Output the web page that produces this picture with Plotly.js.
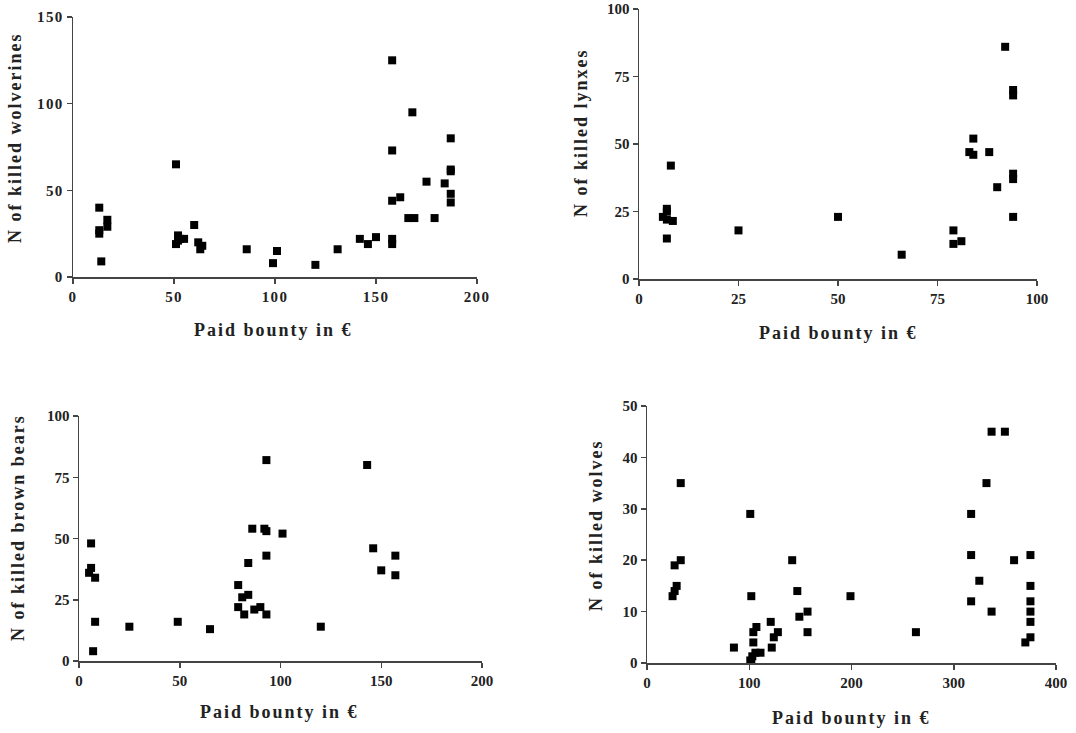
<!DOCTYPE html>
<html>
<head>
<meta charset="utf-8">
<script src="https://cdn.plot.ly/plotly-3.0.1.min.js"></script>
<style>
html,body{margin:0;padding:0;background:#fff;}
#chart{width:1076px;height:733px;}
#chart .xtick text, #chart .ytick text{letter-spacing:1.3px;}
#chart .annotation-text{letter-spacing:2px;}
</style>
</head>
<body>
<div id="chart"></div>
<script>
// Wolverines
const wolverineBounty = [13,13,13,17,17,14,51,51,52,52,55,53,60,62,63,64,86,99,101,120,131,142,146,150,158,158,158,158,158,162,168,166,169,175,179,184,187,187,187,187,187];
const wolverineKilled = [40,27,25,33,29,9,65,19,24,21,22,22,30,20,16,18,16,8,15,7,16,22,19,23,125,73,44,22,19,46,95,34,34,55,34,54,80,62,61,48,43];
// Lynxes
const lynxBounty = [7,6,7,7,7,8.5,8,25,50,66,79,79,81,83,84,84,88,90,92,94,94,94,94,94];
const lynxKilled = [15,23,25,26,22,21.5,42,18,23,9,18,13,14,47,52,46,47,34,86,70,68,39,37,23];
// Brown bears
const bearBounty = [6,6,5,8,8,7,25,49,65,79,79,81,84,82,84,86,87,90,93,93,92,93,93,101,120,143,146,150,157,157];
const bearKilled = [48,38,36,34,16,4,14,16,13,31,22,26,27,19,40,54,21,22,19,82,54,53,43,52,14,80,46,37,43,35];
// Wolves
const wolfBounty = [25,27,29,27,33,33,85,101,102,101,102,103,104,104,107,106,111,121,122,124,128,142,147,149,157,157,199,263,317,317,317,325,332,337,337,350,359,370,375,375,375,375,375,375];
const wolfKilled = [13,14,15,19,20,35,3,29,13,0.5,0,1.3,4,6,7,2,2,8,3,5,6,20,14,9,10,6,13,6,29,21,12,16,35,45,10,45,20,4,5,21,15,12,10,8];

const xTitle = 'Paid bounty in €';
const yTitles = ['N of killed wolverines','N of killed lynxes','N of killed brown bears','N of killed wolves'];

const tickFont = {family:'Liberation Serif, Times New Roman, serif', size:15, color:'#222'};
const titleFont = {family:'Liberation Serif, Times New Roman, serif', size:18, color:'#222'};
const marker = {symbol:'square', size:8, color:'#000'};

function tr(x,y,xa,ya){return {x:x,y:y,xaxis:xa,yaxis:ya,type:'scatter',mode:'markers',marker:marker,hoverinfo:'x+y'};}
const data = [
  tr(wolverineBounty,wolverineKilled,'x','y'),
  tr(lynxBounty,lynxKilled,'x2','y2'),
  tr(bearBounty,bearKilled,'x3','y3'),
  tr(wolfBounty,wolfKilled,'x4','y4')
];

function ax(dom,range,dtick,anchor){
  return {domain:dom,range:range,dtick:dtick,tick0:0,anchor:anchor,showgrid:false,zeroline:false,
    showline:true,linecolor:'#444',linewidth:1.5,ticks:'outside',ticklen:5,tickcolor:'#444',tickwidth:1.5,
    tickfont:tickFont,fixedrange:true,
    tickprefix:'<b>',ticksuffix:'</b>'};
}
const W=1076,H=733;
function dx(a,b){return [a/W,b/W];}
function dy(top,bot){return [1-bot/H,1-top/H];}

const layout = {
  width:W,height:H,margin:{l:0,r:0,t:0,b:0},showlegend:false,
  paper_bgcolor:'#fff',plot_bgcolor:'#fff',
  xaxis: ax(dx(73,477),[0,200],50,'y'),
  yaxis: ax(dy(17,277),[0,150],50,'x'),
  xaxis2: ax(dx(639,1037),[0,100],25,'y2'),
  yaxis2: ax(dy(9,279),[0,100],25,'x2'),
  xaxis3: ax(dx(79,482),[0,200],50,'y3'),
  yaxis3: ax(dy(416,661),[0,100],25,'x3'),
  xaxis4: ax(dx(647,1056),[0,400],100,'y4'),
  yaxis4: ax(dy(406,663),[0,50],10,'x4'),
  annotations:[]
};
const xt=[[273,330],[838,333],[279,712],[851,718]];
const yt=[[15,138],[581,133],[18,528],[596,525]];
for(let i=0;i<4;i++){
  layout.annotations.push({xref:'paper',yref:'paper',x:xt[i][0]/W,y:1-xt[i][1]/H,text:'<b>'+xTitle+'</b>',showarrow:false,font:titleFont,xanchor:'center',yanchor:'middle'});
  layout.annotations.push({xref:'paper',yref:'paper',x:yt[i][0]/W,y:1-yt[i][1]/H,text:'<b>'+yTitles[i]+'</b>',showarrow:false,font:titleFont,textangle:-90,xanchor:'center',yanchor:'middle'});
}
Plotly.newPlot('chart',data,layout,{displayModeBar:false,staticPlot:true});
</script>
</body>
</html>
